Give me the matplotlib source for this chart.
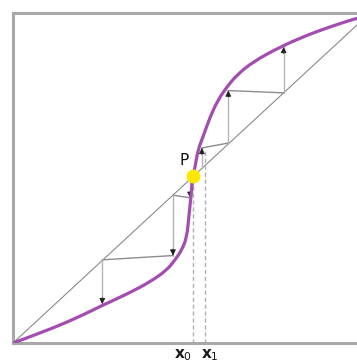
import numpy as np
import matplotlib.pyplot as plt
from matplotlib.path import Path
from matplotlib.patches import PathPatch

# S-shaped map f(x)
curve_x = [0.0, 0.084, 0.179, 0.252, 0.319, 0.384, 0.431, 0.454, 0.473, 0.487,
           0.493, 0.499, 0.504, 0.510, 0.518, 0.532, 0.552, 0.574, 0.599, 0.627,
           0.672, 0.748, 0.824, 0.888, 0.964, 1.0]
curve_y = [0.0, 0.033, 0.076, 0.115, 0.148, 0.185, 0.221, 0.252, 0.282, 0.321,
           0.388, 0.448, 0.506, 0.533, 0.585, 0.624, 0.685, 0.736, 0.776, 0.812,
           0.852, 0.897, 0.933, 0.958, 0.985, 0.992]

# fixed point and the two starting values
p_fix = 0.505
x0 = 0.505
x1 = 0.538
x1_top = 0.585

# cobweb paths (vertices), arrows end on the curve
web_low_x = [0.496, 0.496, 0.448, 0.448, 0.250, 0.250]
web_low_y = [0.496, 0.440, 0.448, 0.265, 0.252, 0.118]
web_up_x = [0.529, 0.529, 0.603, 0.603, 0.758, 0.758]
web_up_y = [0.529, 0.591, 0.606, 0.765, 0.758, 0.897]

fig = plt.figure(figsize=(3.57, 3.63), dpi=100)
ax = fig.add_axes([13 / 357, 20 / 363, 1.0, 330 / 363])
ax.set_xlim(0, 1)
ax.set_ylim(0, 1)
ax.set_xticks([])
ax.set_yticks([])
for s in ax.spines.values():
    s.set_color('#a8a8a8')
    s.set_linewidth(2.2)

# diagonal y = x
ax.plot([0, 1], [0, 1], color='#8a8a8a', lw=0.8, zorder=1)

# dashed guides for x0, x1
ax.plot([x0, x0], [0, p_fix], color='#b0b0b0', lw=1.0, ls=(0, (3, 2)), zorder=1)
ax.plot([x1, x1], [0, x1_top], color='#b0b0b0', lw=1.0, ls=(0, (3, 2)), zorder=1)

# cobwebs
for wx, wy in [(web_low_x, web_low_y), (web_up_x, web_up_y)]:
    for i in range(0, len(wx) - 1):
        c = '#b4b4b4' if i % 2 == 0 else '#8c8c8c'
        ax.plot(wx[i:i + 2], wy[i:i + 2], color=c, lw=1.0, zorder=2)
    # arrow heads on the vertical legs
    for i in range(0, len(wx), 2):
        tip = (wx[i + 1], wy[i + 1])
        d = 0.02 if wy[i + 1] > wy[i] else -0.02
        ax.annotate('', xy=tip, xytext=(tip[0], tip[1] - d),
                    arrowprops=dict(arrowstyle='-|>', color='#1e1e1e', lw=0.5,
                                    mutation_scale=9, shrinkA=0, shrinkB=0),
                    zorder=3)

# smooth curve: quadratic bezier through the read points (midpoint scheme)
pts = np.column_stack([curve_x, curve_y])
verts = [pts[0]]
codes = [Path.MOVETO]
for i in range(1, len(pts) - 1):
    verts += [pts[i], (pts[i] + pts[i + 1]) / 2]
    codes += [Path.CURVE3, Path.CURVE3]
verts.append(pts[-1])
codes.append(Path.LINETO)
ax.add_patch(PathPatch(Path(verts, codes), fill=False, edgecolor='#a34db0',
                       lw=2.3, capstyle='round', joinstyle='round', zorder=4))

ax.plot([p_fix], [p_fix], 'o', color='#ffe800', ms=9, mec='#ffe800', zorder=5)
ax.text(p_fix - 0.012, p_fix + 0.025, 'P', fontsize=11, ha='right', va='bottom',
        color='#111111', zorder=6)

ax.annotate(r'$\mathbf{x}_0$', xy=(x0 - 0.003, 0), xycoords=('data', 'axes fraction'),
            xytext=(0, -3), textcoords='offset points', ha='right', va='top',
            fontsize=11, color='#1a1a1a', annotation_clip=False)
ax.annotate(r'$\mathbf{x}_1$', xy=(x1 - 0.01, 0), xycoords=('data', 'axes fraction'),
            xytext=(0, -3), textcoords='offset points', ha='left', va='top',
            fontsize=11, color='#1a1a1a', annotation_clip=False)

fig.savefig('out.png', dpi=100)
